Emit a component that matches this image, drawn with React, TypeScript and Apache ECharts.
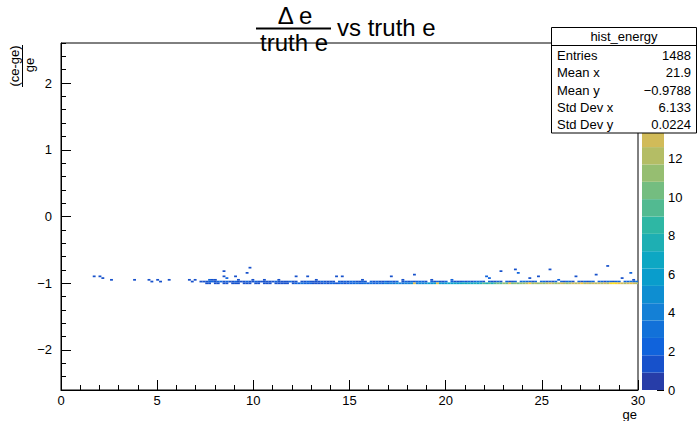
import React, { useEffect, useRef } from 'react';
import * as echarts from 'echarts';

// ---- histogram binning ----
const X_MIN = 0;
const X_MAX = 30;
const X_BIN = 0.15;
const Y_MIN = -2.6;
const Y_MAX = 2.6;
const Y_BIN = 0.026;
const Z_MAX = 18;
const N_LEVELS = 20;

// ---- data (bin counts) ----
const bandStartBin = 50;
const upperRow = 62;
const lowerRow = 61;
const upperCounts = [
  1, 2, 2, 1, 2, 2, 1, 2, 1, 1,
  2, 1, 1, 1, 2, 1, 1, 2, 1, 1,
  1, 1, 1, 1, 2, 1, 1, 1, 1, 2,
  1, 1, 0, 1, 1, 2, 1, 1, 1, 1,
  2, 1, 1, 1, 1, 0, 2, 1, 2, 1,
  2, 2, 1, 1, 2, 1, 0, 2, 1, 2,
  1, 1, 2, 1, 2, 1, 2, 0, 1, 2,
  1, 2, 1, 2, 2, 2, 1, 0, 2, 1,
  2, 1, 1, 2, 0, 2, 1, 1, 1, 2,
  1, 2, 1, 2, 3, 2, 1, 0, 2, 1,
  1, 2, 1, 0, 2, 1, 1, 2, 0, 2,
  3, 2, 2, 1, 2, 0, 2, 2, 1, 2,
  1, 2, 0, 2, 1, 2, 2, 1, 0, 2,
  1, 2, 1, 2, 2, 0, 2, 2, 1, 2,
  2, 1, 2, 2, 0, 2, 2, 3, 2, 3,
];
const lowerCounts = [
  1, 1, 0, 1, 1, 0, 1, 1, 0, 1,
  1, 1, 0, 1, 1, 1, 0, 1, 1, 0,
  1, 1, 1, 0, 1, 1, 1, 1, 1, 0,
  1, 2, 2, 3, 2, 2, 2, 1, 1, 1,
  1, 2, 1, 2, 2, 1, 2, 2, 1, 2,
  2, 2, 3, 2, 2, 3, 2, 3, 2, 2,
  3, 2, 4, 3, 4, 3, 5, 4, 3, 4,
  4, 5, 14, 4, 5, 4, 5, 6, 5, 6,
  14, 6, 5, 6, 7, 6, 7, 6, 7, 8,
  7, 8, 7, 8, 7, 8, 9, 8, 9, 8,
  9, 10, 9, 11, 10, 14, 10, 11, 10, 11,
  11, 12, 15, 11, 12, 11, 12, 11, 12, 13,
  12, 11, 12, 13, 12, 11, 12, 13, 12, 13,
  15, 12, 13, 12, 13, 12, 13, 12, 13, 12,
  16, 17, 16, 15, 13, 12, 13, 14, 13, 12,
];
// [xBin, yRow, count]
const sparseCells: [number, number, number][] = [
  [11, 65, 1], [13, 65, 1], [14, 64, 1], [17, 63, 1], [25, 63, 1], [30, 63, 1],
  [31, 62, 1], [33, 63, 1], [34, 62, 1], [37, 63, 1], [44, 63, 1], [45, 62, 1],
  [46, 63, 1], [48, 62, 1], [49, 62, 1],
  [51, 63, 2], [52, 63, 1], [53, 63, 1], [56, 68, 1], [56, 65, 1], [57, 64, 2], [60, 65, 1],
  [61, 63, 1], [64, 67, 1], [65, 70, 1], [66, 63, 1], [70, 63, 1], [75, 63, 1], [81, 65, 1],
  [85, 65, 1], [88, 63, 1], [95, 65, 1], [97, 65, 1], [104, 63, 1], [114, 65, 1],
  [118, 63, 1], [122, 66, 1], [128, 63, 1], [135, 63, 2], [147, 65, 2], [148, 64, 2],
  [152, 68, 1], [157, 69, 1], [158, 67, 2], [162, 64, 1], [165, 65, 1], [169, 69, 1],
  [172, 63, 2], [178, 65, 1], [185, 66, 1], [189, 71, 1], [194, 64, 1], [197, 67, 2],
  [198, 63, 1],
];

const statsTitle = 'hist_energy';
const statsLabels = ['Entries', 'Mean x', 'Mean y', 'Std Dev x', 'Std Dev y'];
const statsValues = ['1488', '21.9', '\u22120.9788', '6.133', '0.0224'];

// ---- ROOT kBird palette ----
const birdStops = [0, 0.125, 0.25, 0.375, 0.5, 0.625, 0.75, 0.875, 1];
const birdR = [0.2082, 0.0592, 0.078, 0.0232, 0.1802, 0.5301, 0.8186, 0.9956, 0.9764];
const birdG = [0.1664, 0.3599, 0.5041, 0.6419, 0.7178, 0.7492, 0.7328, 0.7862, 0.9832];
const birdB = [0.5293, 0.8684, 0.8385, 0.7914, 0.6425, 0.4662, 0.3499, 0.1968, 0.0539];
function birdColor(p: number) {
  let i = 0;
  while (i < birdStops.length - 2 && p > birdStops[i + 1]) i++;
  const t = (p - birdStops[i]) / (birdStops[i + 1] - birdStops[i]);
  const c = (a: number[]) => Math.round(255 * (a[i] + (a[i + 1] - a[i]) * t));
  return `rgb(${c(birdR)},${c(birdG)},${c(birdB)})`;
}
const levelColors = Array.from({ length: N_LEVELS }, (_, k) =>
  birdColor(Math.floor(((k + 0.99) * 255) / N_LEVELS) / 254)
);

function buildCells() {
  const cells: number[][] = [];
  upperCounts.forEach((c, i) => {
    if (c > 0) cells.push([X_MIN + (bandStartBin + i) * X_BIN, Y_MIN + upperRow * Y_BIN, c]);
  });
  lowerCounts.forEach((c, i) => {
    if (c > 0) cells.push([X_MIN + (bandStartBin + i) * X_BIN, Y_MIN + lowerRow * Y_BIN, c]);
  });
  sparseCells.forEach(([xb, yr, c]) => cells.push([X_MIN + xb * X_BIN, Y_MIN + yr * Y_BIN, c]));
  return cells;
}

const FONT = 'Liberation Sans, Arial, Helvetica, sans-serif';
const minus = (v: number) => String(v).replace('-', '\u2212');

export default function App() {
  const ref = useRef<HTMLDivElement>(null);
  useEffect(() => {
    const chart = echarts.init(ref.current!, null, { renderer: 'svg' });
    const dz = Z_MAX / N_LEVELS;
    const pieces = levelColors.map((color, k) =>
      k === N_LEVELS - 1 ? { gte: k * dz, color } : { gte: k * dz, lt: (k + 1) * dz, color }
    );
    const statsRowH = 17.3;
    const txt = (text: string, x: number, y: number, align: string, size = 13, extra: any = {}) => ({
      type: 'text', x, y, z: 100, ...extra,
      style: { text, fontSize: size, fontFamily: FONT, fill: '#000', align, verticalAlign: 'middle' },
    });
    const elements: any[] = [
      txt('\u0394 e', 295, 15.5, 'center', 24),
      { type: 'line', z: 100, shape: { x1: 256, y1: 28.5, x2: 331, y2: 28.5 }, style: { stroke: '#000', lineWidth: 2 } },
      txt('truth e', 294, 42, 'center', 24),
      txt('vs truth e', 337, 27, 'left', 24),
      txt('(ce-ge)', 14, 66, 'center', 13, { rotation: Math.PI / 2 }),
      { type: 'line', z: 100, shape: { x1: 22.5, y1: 45, x2: 22.5, y2: 87 }, style: { stroke: '#000', lineWidth: 1 } },
      txt('ge', 29, 65, 'center', 13, { rotation: Math.PI / 2 }),
      txt('ge', 637, 414, 'right', 13),
      { type: 'rect', z: 100, shape: { x: 551.5, y: 27.5, width: 145, height: 105.5 }, style: { fill: '#fff', stroke: '#000', lineWidth: 1 } },
      { type: 'line', z: 101, shape: { x1: 551.5, y1: 45.5, x2: 696.5, y2: 45.5 }, style: { stroke: '#000', lineWidth: 1 } },
      txt(statsTitle, 624, 36.5, 'center', 13, { z: 101 }),
    ];
    statsLabels.forEach((lab, i) => {
      const y = 55.5 + i * statsRowH;
      elements.push(txt(lab, 557, y, 'left', 13, { z: 101 }));
      elements.push(txt(statsValues[i], 691, y, 'right', 13, { z: 101 }));
    });

    chart.setOption({
      animation: false,
      backgroundColor: '#fff',
      textStyle: { fontFamily: FONT },
      grid: [
        { left: 61, right: 60, top: 43, bottom: 31, show: true, borderColor: '#000', borderWidth: 1, backgroundColor: 'transparent' },
        { left: 642, right: 34, top: 43, bottom: 31 },
      ],
      xAxis: [
        {
          gridIndex: 0, type: 'value', min: X_MIN, max: X_MAX, interval: 5,
          axisLine: { onZero: false, lineStyle: { color: '#000', width: 1 } },
          axisTick: { inside: true, length: 10, lineStyle: { color: '#000' } },
          minorTick: { show: true, splitNumber: 5, length: 5, lineStyle: { color: '#000' } },
          axisLabel: { color: '#000', fontSize: 13, margin: 4, fontFamily: FONT },
          splitLine: { show: false },
        },
        { gridIndex: 1, type: 'value', min: 0, max: 1, show: false },
      ],
      yAxis: [
        {
          gridIndex: 0, type: 'value', min: Y_MIN, max: Y_MAX, position: 'left',
          axisLine: { onZero: false, lineStyle: { color: '#000', width: 1 } },
          axisTick: { inside: true, length: 10, lineStyle: { color: '#000' } },
          axisLabel: { color: '#000', fontSize: 13, margin: 9, fontFamily: FONT, showMinLabel: false, showMaxLabel: false, formatter: minus },
          splitLine: { show: false },
        },
        {
          gridIndex: 0, type: 'value', min: Y_MIN, max: Y_MAX, interval: 0.2, position: 'left',
          axisLine: { show: false, onZero: false },
          axisTick: { inside: true, length: 5, lineStyle: { color: '#000' } },
          axisLabel: { show: false },
          splitLine: { show: false },
        },
        {
          gridIndex: 1, type: 'value', min: 0, max: Z_MAX, interval: 2, position: 'right',
          axisLine: { show: false, onZero: false },
          axisTick: { inside: true, length: 7, lineStyle: { color: '#000' } },
          // labels 14..18 sit under the stats box in the reference
          axisLabel: { color: '#000', fontSize: 13, margin: 4, fontFamily: FONT, formatter: (v: number) => (v > 13 ? '' : String(v)) },
          splitLine: { show: false },
        },
      ],
      visualMap: {
        type: 'piecewise', show: false, dimension: 2, seriesIndex: 0, pieces,
      },
      series: [
        {
          type: 'custom', xAxisIndex: 0, yAxisIndex: 0, clip: true,
          data: buildCells(),
          renderItem: (params: any, api: any) => {
            const x0 = api.value(0);
            const y0 = api.value(1);
            const p0 = api.coord([x0, y0]);
            const p1 = api.coord([x0 + X_BIN, y0 + Y_BIN]);
            return {
              type: 'rect',
              shape: { x: p0[0], y: p1[1], width: p1[0] - p0[0], height: p0[1] - p1[1] },
              style: { fill: api.visual('color') },
            };
          },
        },
        {
          type: 'custom', xAxisIndex: 1, yAxisIndex: 2,
          data: levelColors.map((_, k) => [k]),
          renderItem: (params: any, api: any) => {
            const k = api.value(0);
            const p0 = api.coord([0, k * dz]);
            const p1 = api.coord([1, (k + 1) * dz]);
            return {
              type: 'rect',
              shape: { x: p0[0], y: p1[1], width: p1[0] - p0[0], height: p0[1] - p1[1] },
              style: { fill: levelColors[k] },
            };
          },
        },
      ],
      graphic: { elements },
    });
    return () => chart.dispose();
  }, []);
  return <div ref={ref} style={{ position: 'fixed', left: 0, top: 0, width: 698, height: 421 }} />;
}
